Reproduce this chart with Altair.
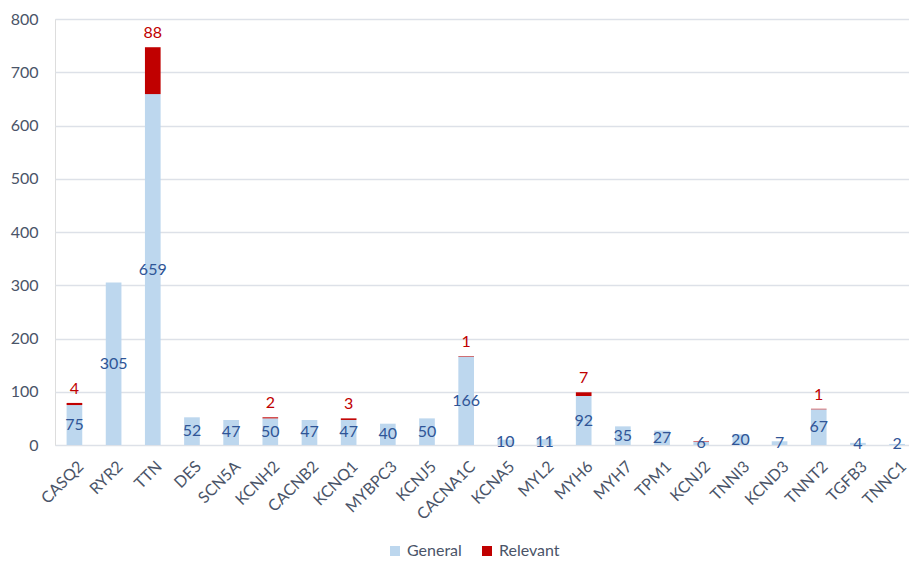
import altair as alt
import pandas as pd

genes = ["CASQ2", "RYR2", "TTN", "DES", "SCN5A", "KCNH2", "CACNB2", "KCNQ1",
         "MYBPC3", "KCNJ5", "CACNA1C", "KCNA5", "MYL2", "MYH6", "MYH7", "TPM1",
         "KCNJ2", "TNNI3", "KCND3", "TNNT2", "TGFB3", "TNNC1"]
general = [75, 305, 659, 52, 47, 50, 47, 47, 40, 50, 166, 10, 11, 92, 35, 27,
           6, 20, 7, 67, 4, 2]
relevant = [4, 0, 88, 0, 0, 2, 0, 3, 0, 0, 1, 0, 0, 7, 0, 0,
            1, 0, 0, 1, 0, 0]
relevant_labels = ["4", "", "88", "", "", "2", "", "3", "", "", "1", "", "", "7", "", "",
                   "", "", "", "1", "", ""]
y_ticks = [0, 100, 200, 300, 400, 500, 600, 700, 800]

df = pd.DataFrame({"gene": genes, "General": general, "Relevant": relevant,
                   "rel_label": relevant_labels})

FONT = "Lato"
x_enc = alt.X("gene:N", sort=genes, title=None,
              scale=alt.Scale(paddingInner=0.6, paddingOuter=0.2, align=0.74),
              axis=alt.Axis(labelAngle=-45, ticks=False, domain=False, grid=False,
                            labelFontSize=16, labelColor="#4a5468", labelFont=FONT,
                            labelPadding=13, labelOffset=1))
y_scale = alt.Scale(domain=[0, 800], nice=False)

bars = alt.Chart(df).transform_fold(
    ["General", "Relevant"], as_=["series", "value"]
).transform_calculate(
    order="datum.series == 'General' ? 0 : 1"
).mark_bar().encode(
    x=x_enc,
    y=alt.Y("value:Q", stack="zero", scale=y_scale, title=None,
            axis=alt.Axis(values=y_ticks, ticks=False, domain=False,
                          gridColor="#dde1e8", gridWidth=1.3,
                          labelFontSize=16, labelColor="#4a5468", labelFont=FONT,
                          labelPadding=17)),
    color=alt.Color("series:N",
                    scale=alt.Scale(domain=["General", "Relevant"],
                                    range=["#bdd7ee", "#c00000"]),
                    legend=alt.Legend(title=None, orient="none", direction="horizontal",
                                      legendX=332, legendY=524, symbolType="square",
                                      symbolSize=100, symbolStrokeWidth=0,
                                      labelFontSize=16, labelFont=FONT,
                                      labelColor="#4a5468", labelOffset=4,
                                      columnPadding=17, padding=0)),
    order=alt.Order("order:Q"),
)

gen_text = alt.Chart(df).transform_calculate(
    mid="datum.General / 2"
).mark_text(fontSize=16, font=FONT, color="#2f5597", baseline="middle").encode(
    x=alt.X("gene:N", sort=genes),
    y=alt.Y("mid:Q", scale=y_scale),
    text=alt.Text("General:Q"),
)

rel_text = alt.Chart(df).transform_calculate(
    top="datum.General + datum.Relevant"
).mark_text(fontSize=16, font=FONT, color="#c00000", baseline="bottom", dy=-6).encode(
    x=alt.X("gene:N", sort=genes),
    y=alt.Y("top:Q", scale=y_scale),
    text=alt.Text("rel_label:N"),
)

chart = alt.layer(bars, gen_text, rel_text).properties(
    width=854, height=426,
    autosize=alt.AutoSizeParams(type="none"),
    padding={"left": 55, "top": 19, "right": 0, "bottom": 116},
).configure_view(stroke=None).configure(background="white")

chart.save("out.html", embed_options={"renderer": "svg", "actions": False})
